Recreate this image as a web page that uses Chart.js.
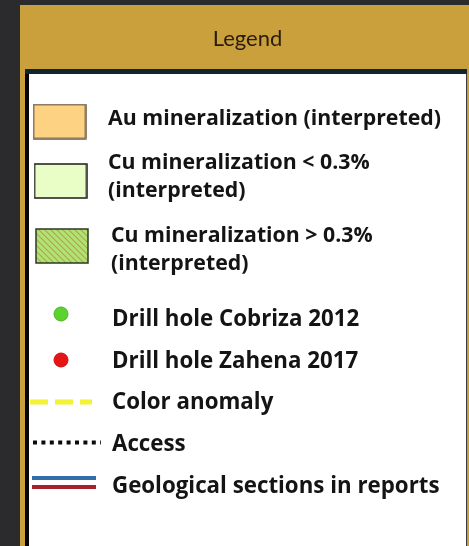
<!DOCTYPE html>
<html>
<head>
<meta charset="utf-8">
<script src="https://cdn.jsdelivr.net/npm/chart.js@4"></script>
<style>
  html, body { margin: 0; padding: 0; }
  body { width: 469px; height: 546px; overflow: hidden; background: #2b2b2d; position: relative; }
  #frame { position: absolute; left: 20px; top: 5px; width: 449px; height: 541px; background: #c9a03b; }
  #bar { position: absolute; left: 25px; top: 69px; width: 442px; height: 5px; background: #10262b; }
  #panel { position: absolute; left: 25px; top: 74px; width: 437px; height: 472px; background: #fff;
           border-left: 4px solid #050505; border-right: 1px solid #3a3a3a; }
  #wrap { position: absolute; left: 29px; top: 9px; width: 437px; height: 537px; }
</style>
</head>
<body>
<div id="frame"></div>
<div id="bar"></div>
<div id="panel"></div>
<div id="wrap"><canvas id="legendChart"></canvas></div>
<script>
// legend entries
const itemLabels = [
  'Au mineralization (interpreted)',
  'Cu mineralization < 0.3%\n(interpreted)',
  'Cu mineralization > 0.3%\n(interpreted)',
  'Drill hole Cobriza 2012',
  'Drill hole Zahena 2017',
  'Color anomaly',
  'Access',
  'Geological sections in reports'
];
// first text baseline of every entry (panel units, top = 0)
const labelBaseline = [51, 95, 168, 252, 294, 335, 377, 419];
const labelX = [79, 79, 82, 83, 83, 83, 83, 83];
const labelSize = [21.3, 21.3, 21.3, 22.3, 22.3, 22.3, 22.3, 22.3];

// symbol anchors
const boxPoints = [{x: 30.5, y: 47.5}, {x: 31.5, y: 107}, {x: 33, y: 172}];
const cobrizaPoint = [{x: 32, y: 240}];
const zahenaPoint = [{x: 32, y: 286}];
const anomalyLine = [{x: 1, y: 328}, {x: 63, y: 328}];
const accessLine = [{x: 4, y: 368.5}, {x: 72, y: 368.5}];
const sectionBlue = [{x: 3, y: 404}, {x: 67, y: 404}];
const sectionRed = [{x: 3, y: 413}, {x: 67, y: 413}];

// 填充方块图标
function makeBox(fill, stroke, hatch) {
  const c = document.createElement('canvas');
  c.width = 54; c.height = 36;
  const g = c.getContext('2d');
  g.fillStyle = fill;
  g.fillRect(1, 1, 52, 34);
  if (hatch) {
    g.save();
    g.beginPath();
    g.rect(1, 1, 52, 34);
    g.clip();
    g.strokeStyle = hatch;
    g.lineWidth = 1.1;
    for (let i = -40; i < 60; i += 6) {
      g.beginPath();
      g.moveTo(i, 0);
      g.lineTo(i + 36, 36);
      g.stroke();
    }
    g.restore();
  }
  g.strokeStyle = stroke;
  g.lineWidth = 1.5;
  g.strokeRect(1, 1, 52, 34);
  return c;
}

const boxStyles = [
  makeBox('#fdd283', '#6b5a44'),
  makeBox('#e9fdc7', '#1a1a1a'),
  makeBox('#a6e878', '#2a3a20', '#e48c3c')
];

const labelPlugin = {
  id: 'legendLabels',
  afterDatasetsDraw(chart) {
    const { ctx, scales: { x, y } } = chart;
    ctx.save();
    ctx.fillStyle = '#141414';
    ctx.textBaseline = 'alphabetic';
    itemLabels.forEach((label, i) => {
      ctx.font = 'bold ' + labelSize[i] + 'px "Open Sans"';
      label.split('\n').forEach((line, j) => {
        ctx.fillText(line, x.getPixelForValue(labelX[i]), y.getPixelForValue(labelBaseline[i] + j * 28));
      });
    });
    ctx.restore();
  }
};

new Chart(document.getElementById('legendChart'), {
  type: 'scatter',
  data: {
    datasets: [
      {
        data: boxPoints,
        pointStyle: boxStyles,
        pointRadius: 5,
        clip: false
      },
      {
        data: cobrizaPoint,
        pointStyle: 'circle',
        pointRadius: 7,
        backgroundColor: '#5bd22e',
        borderColor: '#4cb526',
        borderWidth: 1,
        clip: false
      },
      {
        data: zahenaPoint,
        pointStyle: 'circle',
        pointRadius: 7,
        backgroundColor: '#e51515',
        borderColor: '#c81010',
        borderWidth: 1,
        clip: false
      },
      {
        data: anomalyLine,
        showLine: true,
        pointRadius: 0,
        borderColor: '#f4f235',
        borderWidth: 5,
        borderDash: [18, 7],
        clip: false
      },
      {
        data: accessLine,
        showLine: true,
        pointRadius: 0,
        borderColor: '#0a0a0a',
        borderWidth: 4,
        borderDash: [4, 4.4],
        clip: false
      },
      {
        data: sectionBlue,
        showLine: true,
        pointRadius: 0,
        borderColor: '#2f6ea8',
        borderWidth: 4,
        clip: false
      },
      {
        data: sectionRed,
        showLine: true,
        pointRadius: 0,
        borderColor: '#a8222c',
        borderWidth: 4,
        clip: false
      }
    ]
  },
  options: {
    responsive: true,
    maintainAspectRatio: false,
    animation: false,
    layout: { padding: 0, autoPadding: false },
    scales: {
      x: { display: false, min: 0, max: 437 },
      y: { display: false, min: 0, max: 472, reverse: true }
    },
    plugins: {
      legend: { display: false },
      tooltip: { enabled: false },
      title: {
        display: true,
        text: 'Legend',
        color: '#2a1b0c',
        font: { family: 'Lato', size: 22, weight: 'normal', lineHeight: 1.2 },
        padding: { top: 17, bottom: 21.6 }
      }
    }
  },
  plugins: [labelPlugin]
});
</script>
</body>
</html>
